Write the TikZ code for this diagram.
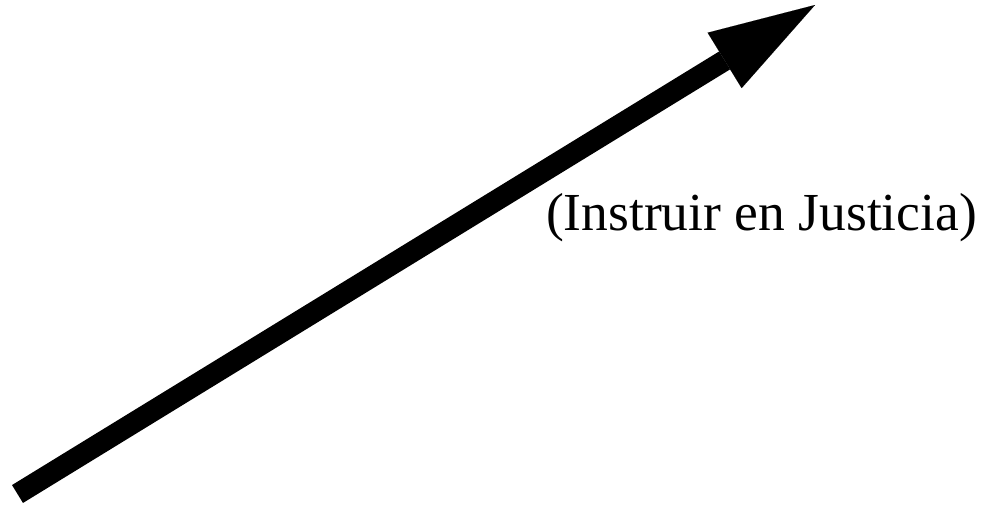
\documentclass[tikz,border=0pt]{standalone}
\usepackage{fontspec}
\setmainfont{Liberation Serif}
\usetikzlibrary{arrows.meta}
\tikzset{
  bigarrow/.style={line width=21pt, -{Triangle[length=106pt,width=65pt,line width=0.01pt]}},
  label/.style={font=\fontsize{53.5}{58}\selectfont, anchor=base, inner sep=0pt}
}
\begin{document}
\begin{tikzpicture}[x=1pt,y=-1pt]
\useasboundingbox (0,0) rectangle (998,508);
\coordinate (s) at (17.5,494);
\coordinate (t) at (815,5);
\draw[bigarrow] (s) -- (t);
\node[label] (lab) at (761.5,230) {(Instruir en Justicia)};
\end{tikzpicture}
\end{document}
